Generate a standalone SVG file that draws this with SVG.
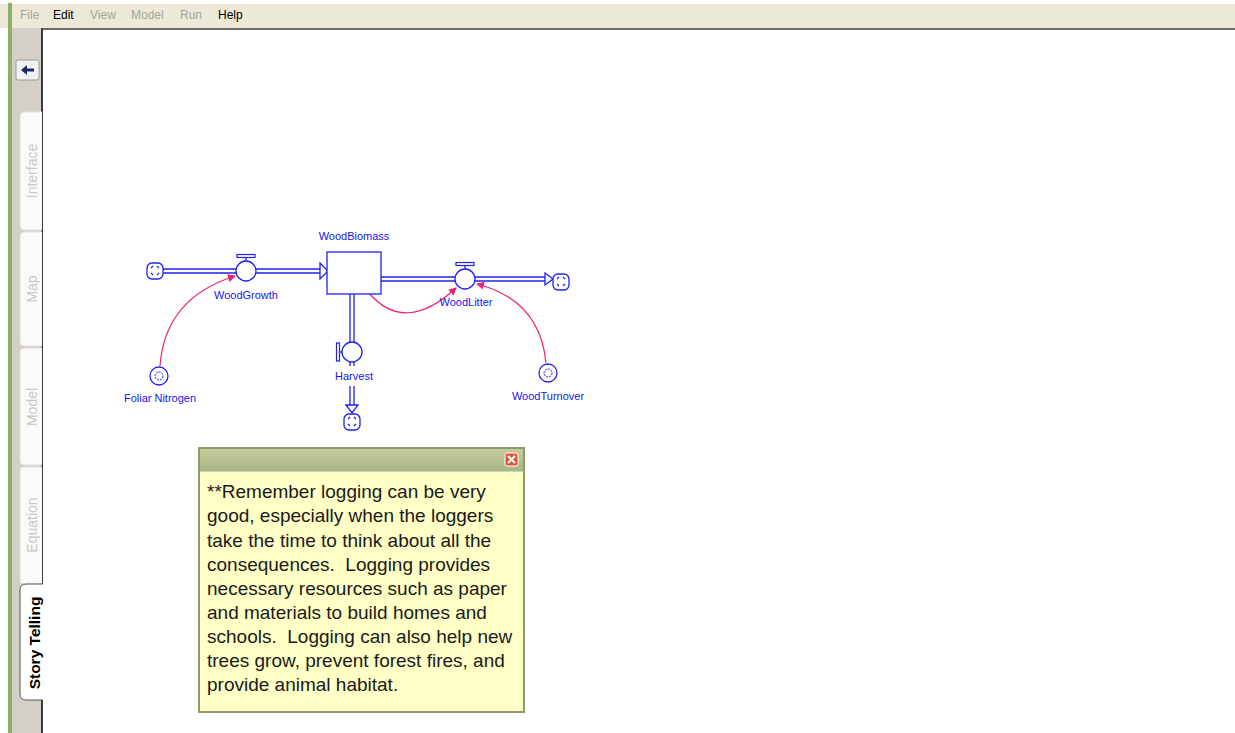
<svg xmlns="http://www.w3.org/2000/svg" width="1235" height="733" viewBox="0 0 1235 733">
<style>
.menu{font-family:"Liberation Sans",Arial,sans-serif;font-size:12px}
.dis{fill:#A7A59A}
.en{fill:#000}
.tab{font-family:"Liberation Sans",Arial,sans-serif;font-size:14px;fill:#C8C8C8}
.lbl{font-family:"Liberation Sans",Arial,sans-serif;font-size:11px;fill:#1515F0;text-anchor:middle}
.pipe{stroke:#2020F0;stroke-width:1.3;fill:none}
.shape{stroke:#2020F0;stroke-width:1.3;fill:#fff}
.link{stroke:#F0207A;stroke-width:1.2;fill:none;marker-end:url(#ah)}
.note{font-family:"Liberation Sans",Arial,sans-serif;font-size:19px;fill:#1A1A1A;white-space:pre}
</style>
<defs>
<marker id="ah" markerWidth="8" markerHeight="8" refX="7" refY="4" orient="auto" markerUnits="userSpaceOnUse">
<path d="M0,0 L8,4 L0,8 Z" fill="#F0207A"/>
</marker>
<linearGradient id="tb" x1="0" y1="0" x2="0" y2="1">
<stop offset="0" stop-color="#C3CB9F"/>
<stop offset="1" stop-color="#A9B585"/>
</linearGradient>
<g id="cloud">
<rect x="-8" y="-8" width="16" height="16" rx="5" fill="#fff" stroke="#2020F0" stroke-width="1.3"/>
<path d="M-4,-3 L-2,-5 M2,-5 L4,-3 M4,2 L2,4 M-2,4 L-4,2" stroke="#2020F0" stroke-width="1.2"/>
</g>
</defs>
<rect x="0" y="0" width="1235" height="733" fill="#fff"/>
<!-- menu bar -->
<rect x="0" y="4" width="1235" height="24" fill="#ECE9D8"/>
<text class="menu dis" x="20" y="19">File</text>
<text class="menu en" x="53" y="19">Edit</text>
<text class="menu dis" x="90" y="19">View</text>
<text class="menu dis" x="131" y="19">Model</text>
<text class="menu dis" x="180" y="19">Run</text>
<text class="menu en" x="218" y="19">Help</text>
<!-- left panel -->
<rect x="8" y="3" width="4" height="730" fill="#8FAE6A"/>
<rect x="12" y="28" width="31" height="705" fill="#D4D0C8"/>
<rect x="42" y="28" width="1193" height="2" fill="#6B6B6B"/>
<rect x="41" y="28" width="2" height="705" fill="#3A3A3A"/>
<g id="back">
<rect x="16" y="60" width="23" height="20" rx="2" fill="#F2F2F2" stroke="#9A9A9A"/>
<path d="M21,70 L27,65 L27,68.5 L34,68.5 L34,71.5 L27,71.5 L27,75 Z" fill="#1C2A6B"/>
</g>
<g id="tabs">
<path d="M42,112 L24,112 Q20,112 20,116 L20,226 Q20,230 24,230 L42,230" fill="#FAFAFA" stroke="#E0E0E0"/>
<text class="tab" transform="translate(37,171) rotate(-90)" text-anchor="middle">Interface</text>
<path d="M42,232 L24,232 Q20,232 20,236 L20,342 Q20,346 24,346 L42,346" fill="#FAFAFA" stroke="#E0E0E0"/>
<text class="tab" transform="translate(37,289) rotate(-90)" text-anchor="middle">Map</text>
<path d="M42,348 L24,348 Q20,348 20,352 L20,461 Q20,465 24,465 L42,465" fill="#FAFAFA" stroke="#E0E0E0"/>
<text class="tab" transform="translate(37,407) rotate(-90)" text-anchor="middle">Model</text>
<path d="M42,467 L24,467 Q20,467 20,471 L20,580 Q20,584 24,584 L42,584" fill="#FAFAFA" stroke="#E0E0E0"/>
<text class="tab" transform="translate(37,525) rotate(-90)" text-anchor="middle">Equation</text>
<path d="M43,584 L26,584 Q20,584 20,590 L20,694 Q20,700 26,700 L43,700" fill="#fff" stroke="#555"/>
<text transform="translate(39.5,643) rotate(-90)" text-anchor="middle" font-family="Liberation Sans,Arial,sans-serif" font-size="15.5" font-weight="bold" fill="#000">Story Telling</text>
</g>
<!-- flows / pipes -->
<g id="connectors">
<path class="pipe" d="M163,269 L236,269 M163,273 L236,273"/>
<path class="pipe" d="M256,269 L320,269 M256,273 L320,273"/>
<path d="M320,263 L328,271 L320,279 Z" fill="#fff" stroke="#2020F0" stroke-width="1.3"/>
<path class="pipe" d="M381,277 L455,277 M381,281 L455,281"/>
<path class="pipe" d="M475,277 L545,277 M475,281 L545,281"/>
<path d="M545,273 L553,279 L545,285 Z" fill="#fff" stroke="#2020F0" stroke-width="1.3"/>
<path class="pipe" d="M350,294 L350,342 M354,294 L354,342"/>
<path class="pipe" d="M350,362 L350,366 M354,362 L354,366"/>
<path class="pipe" d="M350,386 L350,405 M354,386 L354,405"/>
<path d="M346,405 L352,413 L358,405 Z" fill="#fff" stroke="#2020F0" stroke-width="1.3"/>
<path class="link" d="M160,366 Q165,298 235,276"/>
<path class="link" d="M369,293 Q405,335 456,288"/>
<path class="link" d="M546,363 Q540,300 477,284"/>
</g>
<g id="cloud1"><use href="#cloud" x="155" y="271"/></g>
<g id="cloud2"><use href="#cloud" x="561" y="282"/></g>
<g id="cloud3"><use href="#cloud" x="352" y="422"/></g>
<g id="WoodGrowth">
<path class="pipe" d="M246,261 L246,257"/>
<rect x="237" y="254.5" width="18" height="3" fill="#fff" stroke="#2020F0" stroke-width="1.2"/>
<circle class="shape" cx="246" cy="271" r="10"/>
<text class="lbl" x="246" y="299">WoodGrowth</text>
</g>
<g id="WoodBiomass">
<rect class="shape" x="327" y="252" width="54" height="42"/>
<text class="lbl" x="354" y="240">WoodBiomass</text>
</g>
<g id="WoodLitter">
<path class="pipe" d="M465,269 L465,265"/>
<rect x="456" y="262.5" width="18" height="3" fill="#fff" stroke="#2020F0" stroke-width="1.2"/>
<circle class="shape" cx="465" cy="279" r="10"/>
<text class="lbl" x="466" y="306">WoodLitter</text>
</g>
<g id="Harvest">
<path class="pipe" d="M342,352 L338,352"/>
<rect x="336.5" y="343" width="3" height="18" fill="#fff" stroke="#2020F0" stroke-width="1.2"/>
<circle class="shape" cx="352" cy="352" r="10"/>
<text class="lbl" x="354" y="380">Harvest</text>
</g>
<g id="FoliarNitrogen">
<circle class="shape" cx="159" cy="376" r="9"/>
<circle cx="159" cy="376" r="4" fill="none" stroke="#2020F0" stroke-width="1" stroke-dasharray="2,1"/>
<text class="lbl" x="160" y="402">Foliar Nitrogen</text>
</g>
<g id="WoodTurnover">
<circle class="shape" cx="548" cy="373" r="9"/>
<circle cx="548" cy="373" r="4" fill="none" stroke="#2020F0" stroke-width="1" stroke-dasharray="2,1"/>
<text class="lbl" x="548" y="400">WoodTurnover</text>
</g>
<!-- note -->
<g id="note">
<rect x="199" y="448" width="325" height="264" fill="#FFFFC6" stroke="#8C9B6C" stroke-width="2"/>
<rect x="200" y="449" width="323" height="23" fill="url(#tb)"/>
<line x1="200" y1="472" x2="523" y2="472" stroke="#EFF2DF" stroke-width="1"/>
<rect x="505" y="453" width="13" height="13" rx="2" fill="#E2533A" stroke="#fff" stroke-width="1"/>
<path d="M508,456 L515,463 M515,456 L508,463" stroke="#fff" stroke-width="2"/>
<text class="note" x="207" y="498">**Remember logging can be very</text>
<text class="note" x="207" y="522">good, especially when the loggers</text>
<text class="note" x="207" y="547">take the time to think about all the</text>
<text class="note" x="207" y="571">consequences.  Logging provides</text>
<text class="note" x="207" y="595">necessary resources such as paper</text>
<text class="note" x="207" y="619">and materials to build homes and</text>
<text class="note" x="207" y="643">schools.  Logging can also help new</text>
<text class="note" x="207" y="667">trees grow, prevent forest fires, and</text>
<text class="note" x="207" y="691">provide animal habitat.</text>
</g>
</svg>
